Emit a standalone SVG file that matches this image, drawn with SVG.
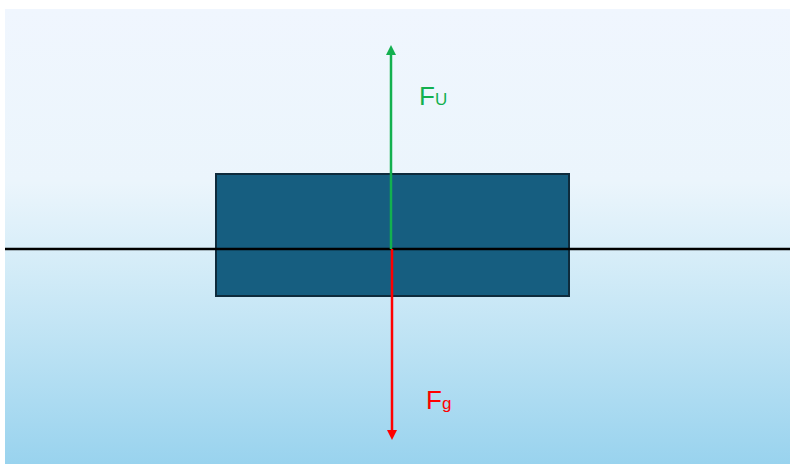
<svg xmlns="http://www.w3.org/2000/svg" width="790" height="464" viewBox="0 0 790 464">
<defs>
<linearGradient id="bg" x1="0" y1="0" x2="0" y2="1">
<stop offset="0" stop-color="#F0F6FE"/>
<stop offset="0.38" stop-color="#EBF5FC"/>
<stop offset="0.55" stop-color="#D6EDF8"/>
<stop offset="1" stop-color="#99D3EE"/>
</linearGradient>
<marker id="ag" markerWidth="10" markerHeight="10" refX="5" refY="5" orient="auto" markerUnits="userSpaceOnUse"><path d="M0,0 L10,5 L0,10 Z" fill="#13B04F"/></marker>
<marker id="ar" markerWidth="10" markerHeight="10" refX="5" refY="5" orient="auto" markerUnits="userSpaceOnUse"><path d="M0,0 L10,5 L0,10 Z" fill="#FF0000"/></marker>
<style>
.lbl{font-family:"Liberation Sans",Arial,sans-serif;font-size:26px}
</style>
</defs>
<rect x="5" y="9" width="785" height="455" fill="url(#bg)"/>
<g id="block"><rect x="216" y="174" width="353" height="122" fill="#165E80" stroke="#0E2B3C" stroke-width="2"/></g>
<g id="surface"><line x1="5" y1="249" x2="790" y2="249" stroke="#000" stroke-width="2.5"/></g>
<g id="connectors">
<line x1="391" y1="249" x2="391" y2="50" stroke="#13B04F" stroke-width="2.5" marker-end="url(#ag)"/>
<line x1="392" y1="249" x2="392" y2="435" stroke="#FF0000" stroke-width="2.5" marker-end="url(#ar)"/>
</g>
<g id="label-fu"><text class="lbl" x="419" y="105" fill="#13B04F">F<tspan font-size="17">U</tspan></text></g>
<g id="label-fg"><text class="lbl" x="426" y="409" fill="#FF0000">F<tspan font-size="17">g</tspan></text></g>
</svg>
